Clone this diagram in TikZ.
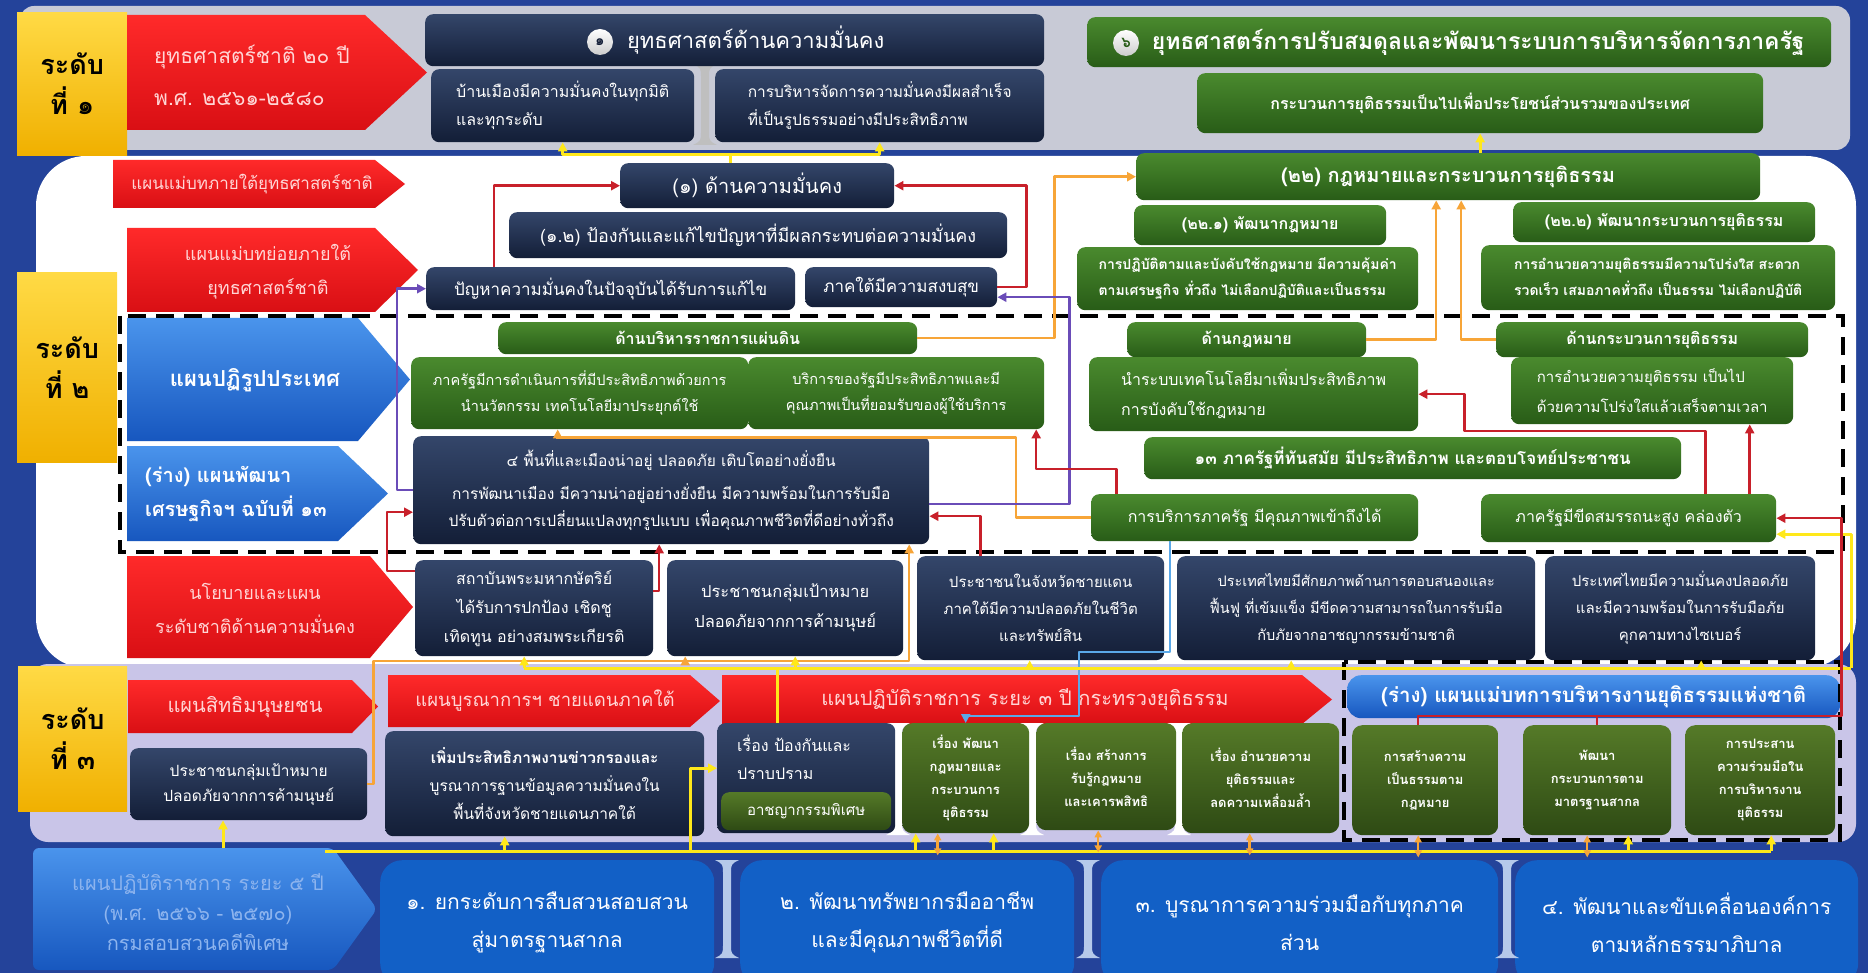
\documentclass[tikz,border=0pt]{standalone}
\usepackage{fontspec}
\setmainfont[Script=Thai]{Loma}
\usetikzlibrary{calc,arrows.meta}
\definecolor{frame}{HTML}{24439A}
\definecolor{lvone}{HTML}{C8CAD6}
\definecolor{lvthree}{HTML}{C9C5E8}
\definecolor{navT}{HTML}{34466A}
\definecolor{navB}{HTML}{131E37}
\definecolor{grT}{HTML}{4A8A2E}
\definecolor{grB}{HTML}{285C17}
\definecolor{olT}{HTML}{557A28}
\definecolor{olB}{HTML}{2E4A14}
\definecolor{rdT}{HTML}{FF2A2A}
\definecolor{rdB}{HTML}{D90F14}
\definecolor{blT}{HTML}{4A94EC}
\definecolor{blB}{HTML}{1757BF}
\definecolor{ylT}{HTML}{FFDA45}
\definecolor{ylB}{HTML}{F0B000}
\definecolor{bbox}{HTML}{1260C6}
\definecolor{pinktxt}{HTML}{FFD6D6}
\definecolor{yelc}{HTML}{FFE81A}
\definecolor{orac}{HTML}{F7A538}
\definecolor{redc}{HTML}{C8202A}
\definecolor{purc}{HTML}{6A4CB8}
\definecolor{bluc}{HTML}{5AA8E8}
\definecolor{beam}{HTML}{B5C9EA}
\definecolor{batxt}{HTML}{8DB4EE}
\newcommand{\fsz}[2]{\fontsize{#1}{#2}\selectfont}
\newcommand{\bx}[6]{\node[#1,anchor=north west,minimum width=#4,minimum height=#5] (#2) at (#3) {#6};}
\newcommand{\pent}[6]{\path[#1] (#2,#3) -- (#4,#3) -- (#5,{(#3+#6)/2}) -- (#4,#6) -- (#2,#6) -- cycle;}
\newcommand{\ibeam}[4]{\path[#4] (#1-12,#2) -- (#1+12,#2) .. controls (#1+4,#2+4) .. (#1+4,#2+14) -- (#1+4,#3-14) .. controls (#1+4,#3-4) .. (#1+12,#3) -- (#1-12,#3) .. controls (#1-4,#3-4) .. (#1-4,#3-14) -- (#1-4,#2+14) .. controls (#1-4,#2+4) .. (#1-12,#2) -- cycle;}
\tikzset{
 every node/.style={inner sep=2pt},
 lvl/.style={top color=ylT, bottom color=ylB, text=black, font=\fsz{27}{40}\bfseries, align=center},
 nav/.style={rounded corners=8pt, top color=navT, bottom color=navB, text=white, align=center},
 grn/.style={rounded corners=8pt, top color=grT, bottom color=grB, text=white, align=center},
 olv/.style={rounded corners=10pt, top color=olT, bottom color=olB, text=white, align=center, font=\fsz{13}{23}\bfseries},
 bbx/.style={rounded corners=22pt, fill=bbox, text=white, align=center, font=\fsz{21}{38}},
 rarrow/.style={top color=rdT, bottom color=rdB},
 barrow/.style={top color=blT, bottom color=blB},
 rtxt/.style={text=pinktxt, align=center},
 btxt/.style={text=white, align=center},
 con/.style={line width=2.5pt, line join=round},
 yel/.style={con, draw=yelc, line width=3pt},
 ora/.style={con, draw=orac},
 rdl/.style={con, draw=redc},
 pur/.style={con, draw=purc},
 blu/.style={con, draw=bluc, line width=2pt},
 arw/.style={-{Triangle[length=9pt,width=9pt]}},
 dbox/.style={draw=black, line width=3.5pt, dash pattern=on 18pt off 10pt},
 ball/.style={circle, top color=white, bottom color=gray!40, font=\fsz{15}{15}\bfseries, minimum size=26pt, inner sep=0pt},
}
\begin{document}
\begin{tikzpicture}[x=1pt,y=-1pt]
\useasboundingbox (0,0) rectangle (1868,973);
\fill[frame] (0,0) rectangle (1868,973);
\fill[lvone, rounded corners=14pt] (20,6) rectangle (1850,150);
\fill[white, rounded corners=50pt] (36,156) rectangle (1856,668);
\fill[lvthree, rounded corners=18pt] (30,664) rectangle (1856,842);

% ---------- level 1
\bx{lvl}{Y1}{17,12}{110}{143}{ระดับ\\ที่ ๑}
\pent{rarrow}{127}{15}{365}{427}{130}
\node[rtxt, align=left, font=\fsz{21}{42}] (R1) at (252,75) {ยุทธศาสตร์ชาติ ๒๐ ปี\\พ.ศ. ๒๕๖๑-๒๕๘๐};
\ibeam{705}{64}{145}{fill=gray!50}
\bx{nav, font=\fsz{22}{30}}{N1}{425,14}{619}{52}{\hspace*{42pt}ยุทธศาสตร์ด้านความมั่นคง}
\node[ball, text=navB] (C1) at (600,42) {๑};
\bx{nav, font=\fsz{16}{28}, align=left}{N1a}{431,69}{263}{73}{บ้านเมืองมีความมั่นคงในทุกมิติ\\และทุกระดับ}
\bx{nav, font=\fsz{15.5}{28}, align=left}{N1b}{715,69}{329}{73}{การบริหารจัดการความมั่นคงมีผลสำเร็จ\\ที่เป็นรูปธรรมอย่างมีประสิทธิภาพ}
\bx{grn, font=\fsz{23}{30}\bfseries}{G1}{1087,17}{744}{50}{\hspace*{38pt}ยุทธศาสตร์การปรับสมดุลและพัฒนาระบบการบริหารจัดการภาครัฐ}
\node[ball, text=grB] (C2) at (1126,43) {๖};
\bx{grn, font=\fsz{16}{20}\bfseries}{G1a}{1197,73}{566}{60}{กระบวนการยุติธรรมเป็นไปเพื่อประโยชน์ส่วนรวมของประเทศ}

% ---------- level 2
\pent{rarrow}{113}{160}{375}{405}{208}
\node[rtxt, font=\fsz{17}{24}] (R2) at (252,184) {แผนแม่บทภายใต้ยุทธศาสตร์ชาติ};
\pent{rarrow}{127}{228}{375}{418}{312}
\node[rtxt, font=\fsz{18}{34}] (R3) at (268,272) {แผนแม่บทย่อยภายใต้\\ยุทธศาสตร์ชาติ};
\bx{lvl}{Y2}{17,272}{100}{190}{ระดับ\\ที่ ๒}

\bx{nav, font=\fsz{20}{24}}{N2}{620,163}{274}{45}{(๑) ด้านความมั่นคง}
\bx{nav, font=\fsz{18}{24}}{N3}{509,212}{498}{46}{(๑.๒) ป้องกันและแก้ไขปัญหาที่มีผลกระทบต่อความมั่นคง}
\bx{nav, font=\fsz{17}{24}}{N4}{426,267}{369}{43}{ปัญหาความมั่นคงในปัจจุบันได้รับการแก้ไข}
\bx{nav, font=\fsz{17}{24}}{N5}{805,267}{192}{40}{ภาคใต้มีความสงบสุข}

\bx{grn, font=\fsz{20}{24}\bfseries}{G2}{1136,153}{624}{47}{(๒๒) กฎหมายและกระบวนการยุติธรรม}
\bx{grn, font=\fsz{16}{20}\bfseries}{G3}{1134,205}{252}{40}{(๒๒.๑) พัฒนากฎหมาย}
\bx{grn, font=\fsz{14}{26}\bfseries, align=left}{G4}{1077,247}{341}{63}{การปฏิบัติตามและบังคับใช้กฎหมาย มีความคุ้มค่า\\ตามเศรษฐกิจ ทั่วถึง ไม่เลือกปฏิบัติและเป็นธรรม}
\bx{grn, font=\fsz{16}{20}\bfseries}{G5}{1513,202}{302}{40}{(๒๒.๒) พัฒนากระบวนการยุติธรรม}
\bx{grn, font=\fsz{14}{26}\bfseries, align=left}{G6}{1481,245}{354}{65}{การอำนวยความยุติธรรมมีความโปร่งใส สะดวก\\รวดเร็ว เสมอภาคทั่วถึง เป็นธรรม ไม่เลือกปฏิบัติ}

\pent{barrow}{127}{318}{358}{410}{441}
\node[btxt, font=\fsz{22}{28}\bfseries] (B1) at (255,380) {แผนปฏิรูปประเทศ};
\pent{barrow}{127}{446}{338}{388}{541}
\node[btxt, align=left, font=\fsz{20}{34}\bfseries] (B2) at (236,494) {(ร่าง) แผนพัฒนา\\เศรษฐกิจฯ ฉบับที่ ๑๓};

\bx{grn, font=\fsz{16}{20}\bfseries}{G7}{498,322}{419}{32}{ด้านบริหารราชการแผ่นดิน}
\bx{grn, font=\fsz{14.5}{26}}{G8}{411,357}{337}{72}{ภาครัฐมีการดำเนินการที่มีประสิทธิภาพด้วยการ\\นำนวัตกรรม เทคโนโลยีมาประยุกต์ใช้}
\bx{grn, font=\fsz{14.5}{26}}{G9}{748,357}{296}{72}{บริการของรัฐมีประสิทธิภาพและมี\\คุณภาพเป็นที่ยอมรับของผู้ใช้บริการ}
\bx{grn, font=\fsz{16}{20}\bfseries}{G10}{1127,322}{239}{35}{ด้านกฎหมาย}
\bx{grn, font=\fsz{16}{30}, align=left}{G11}{1089,357}{329}{74}{นำระบบเทคโนโลยีมาเพิ่มประสิทธิภาพ\\การบังคับใช้กฎหมาย}
\bx{grn, font=\fsz{16}{20}\bfseries}{G12}{1496,322}{312}{35}{ด้านกระบวนการยุติธรรม}
\bx{grn, font=\fsz{15}{30}, align=left}{G13}{1511,357}{282}{67}{การอำนวยความยุติธรรม เป็นไป\\ด้วยความโปร่งใสแล้วเสร็จตามเวลา}
\bx{grn, font=\fsz{17}{22}\bfseries}{G14}{1144,437}{537}{42}{๑๓ ภาครัฐที่ทันสมัย มีประสิทธิภาพ และตอบโจทย์ประชาชน}
\bx{grn, font=\fsz{16}{20}}{G15}{1091,494}{327}{47}{การบริการภาครัฐ มีคุณภาพเข้าถึงได้}
\bx{grn, font=\fsz{16}{20}}{G16}{1481,494}{295}{48}{ภาครัฐมีขีดสมรรถนะสูง คล่องตัว}
\bx{nav, font=\fsz{15.5}{27}}{N6}{413,436}{516}{108}{๔ พื้นที่และเมืองน่าอยู่ ปลอดภัย เติบโตอย่างยั่งยืน\\[6pt]การพัฒนาเมือง มีความน่าอยู่อย่างยั่งยืน มีความพร้อมในการรับมือ\\ปรับตัวต่อการเปลี่ยนแปลงทุกรูปแบบ เพื่อคุณภาพชีวิตที่ดีอย่างทั่วถึง}

% ---------- policy row
\pent{rarrow}{127}{556}{370}{413}{658}
\node[rtxt, font=\fsz{18}{34}] (R4) at (255,608) {นโยบายและแผน\\ระดับชาติด้านความมั่นคง};
\ibeam{1170}{556}{660}{fill=white}
\bx{nav, font=\fsz{16}{29}}{P1}{415,560}{238}{96}{สถาบันพระมหากษัตริย์\\ได้รับการปกป้อง เชิดชู\\เทิดทูน อย่างสมพระเกียรติ}
\bx{nav, font=\fsz{16.5}{30}}{P2}{667,560}{236}{96}{ประชาชนกลุ่มเป้าหมาย\\ปลอดภัยจากการค้ามนุษย์}
\bx{nav, font=\fsz{15}{27}}{P3}{917,556}{247}{104}{ประชาชนในจังหวัดชายแดน\\ภาคใต้มีความปลอดภัยในชีวิต\\และทรัพย์สิน}
\bx{nav, font=\fsz{14.5}{27}}{P4}{1177,556}{358}{104}{ประเทศไทยมีศักยภาพด้านการตอบสนองและ\\ฟื้นฟู ที่เข้มแข็ง มีขีดความสามารถในการรับมือ\\กับภัยจากอาชญากรรมข้ามชาติ}
\bx{nav, font=\fsz{15}{27}}{P5}{1545,556}{270}{104}{ประเทศไทยมีความมั่นคงปลอดภัย\\และมีความพร้อมในการรับมือภัย\\คุกคามทางไซเบอร์}

% ---------- level 3
\bx{lvl}{Y3}{18,666}{109}{145}{ระดับ\\ที่ ๓}
\pent{rarrow}{128}{680}{352}{378}{733}
\node[rtxt, font=\fsz{20}{22}] (R5) at (245,707) {แผนสิทธิมนุษยชน};
\bx{nav, font=\fsz{15.5}{25}}{L1}{130,748}{237}{72}{ประชาชนกลุ่มเป้าหมาย\\ปลอดภัยจากการค้ามนุษย์}
\pent{rarrow}{388}{675}{690}{720}{727}
\node[rtxt, font=\fsz{18.5}{22}] (R6) at (545,701) {แผนบูรณาการฯ ชายแดนภาคใต้};
\bx{nav, font=\fsz{15.5}{28}}{L2}{385,731}{319}{105}{\textbf{เพิ่มประสิทธิภาพงานข่าวกรองและ}\\บูรณาการฐานข้อมูลความมั่นคงใน\\พื้นที่จังหวัดชายแดนภาคใต้}
\pent{rarrow}{722}{675}{1302}{1332}{724}
\node[rtxt, font=\fsz{20}{22}] (R7) at (1025,700) {แผนปฏิบัติราชการ ระยะ ๓ ปี กระทรวงยุติธรรม};
\bx{rounded corners=14pt, top color=blT, bottom color=blB, text=white, font=\fsz{20.5}{22}\bfseries}{BL}{1347,675}{493}{43}{(ร่าง) แผนแม่บทการบริหารงานยุติธรรมแห่งชาติ}

\ibeam{898}{723}{835}{fill=white}
\ibeam{1032}{723}{835}{fill=white}
\ibeam{1179}{723}{835}{fill=white}
\bx{nav}{L3}{717,723}{178}{110}{}
\bx{olv, rounded corners=8pt, font=\fsz{15}{20}}{L3g}{721,792}{170}{38}{อาชญากรรมพิเศษ}
\node[text=white, font=\fsz{16}{28}, align=left, anchor=north west] (L3t) at (735,733) {เรื่อง ป้องกันและ\\ปราบปราม};
\bx{olv}{L4}{902,723}{127}{110}{เรื่อง พัฒนา\\กฎหมายและ\\กระบวนการ\\ยุติธรรม}
\bx{olv}{L5}{1036,723}{140}{107}{เรื่อง สร้างการ\\รับรู้กฎหมาย\\และเคารพสิทธิ}
\bx{olv}{L6}{1182,723}{157}{110}{เรื่อง อำนวยความ\\ยุติธรรมและ\\ลดความเหลื่อมล้ำ}
\bx{olv}{L7}{1352,725}{146}{110}{การสร้างความ\\เป็นธรรมตาม\\กฎหมาย}
\bx{olv}{L8}{1523,725}{148}{110}{พัฒนา\\กระบวนการตาม\\มาตรฐานสากล}
\bx{olv}{L9}{1685,725}{150}{110}{การประสาน\\ความร่วมมือใน\\การบริหารงาน\\ยุติธรรม}

% ---------- bottom row
\pent{barrow, rounded corners=6pt}{33}{848}{333}{377}{970}
\node[text=batxt, align=center, font=\fsz{20}{30}] (BA) at (198,912) {แผนปฏิบัติราชการ ระยะ ๕ ปี\\(พ.ศ. ๒๕๖๖ - ๒๕๗๐)\\กรมสอบสวนคดีพิเศษ};
\bx{bbx}{BB1}{380,860}{334}{125}{๑. ยกระดับการสืบสวนสอบสวน\\สู่มาตรฐานสากล}
\bx{bbx}{BB2}{740,860}{334}{125}{๒. พัฒนาทรัพยากรมืออาชีพ\\และมีคุณภาพชีวิตที่ดี}
\bx{bbx}{BB3}{1101,860}{397}{125}{๓. บูรณาการความร่วมมือกับทุกภาค\\ส่วน}
\bx{bbx}{BB4}{1515,860}{343}{125}{๔. พัฒนาและขับเคลื่อนองค์การ\\ตามหลักธรรมาภิบาล}
\ibeam{727}{860}{958}{fill=beam}
\ibeam{1088}{860}{958}{fill=beam}
\ibeam{1507}{860}{958}{fill=beam}

% ---------- dashed frames
\draw[dbox] (120,316) rectangle (1843,552);
\draw[dbox] (1344,662) rectangle (1840,840);

% ---------- connectors, top
\draw[yel] ([xshift=-27]N2.north) -- ++(0,-8) coordinate (yt);
\draw[yel,arw] (yt) -| (N1a.south);
\draw[yel,arw] (yt) -| (N1b.south);
\draw[yel,arw] (G2.north -| G1a.south) -- (G1a.south);
\draw[rdl,arw] ([xshift=68]N4.north west) |- (N2.west);
\draw[rdl,arw] (N5.east) -- ++(29,0) |- (N2.east);
\draw[ora,arw] (G7.east) -- ++(137,0) |- (G2.west);
\draw[ora,arw] (G10.east) -| ([xshift=-12]G2.south);
\draw[ora,arw] (G12.west) -| ([xshift=13]G2.south);
\draw[ora,arw] (G15.west) -- ++(-75,0) -- ++(0,-80) -| ([xshift=-22]G8.south);
\draw[pur,arw] (N6.west) -- ++(-16,0) |- (N4.west);
\draw[pur,arw] ([yshift=-14]N6.east) -- ++(140,0) |- ([yshift=-10]N5.east);
\draw[rdl,arw] ([xshift=77]G16.north) -- ++(0,-63) -- ++(-241,0) |- (G11.east);
\draw[rdl,arw] ([xshift=121]G16.north) -- ([xshift=121]G16.north |- G13.south);
\draw[rdl,arw] ([xshift=-138]G15.north) -- ++(0,-25) -| ([xshift=140]G9.south);
\draw[rdl,arw] ([xshift=-60]P3.north) |- ([yshift=-26]N6.east);
\draw[rdl,arw] ([yshift=37]P1.west) -- ++(-28,0) |- ([yshift=-22]N6.west);
\draw[rdl,arw] ([yshift=17]P1.east) -| ([xshift=-12]N6.south);

% ---------- connectors, lower
\draw[ora,arw] (L1.east) -- ++(6,0) -- ++(0,-123) coordinate (ob) -| ([xshift=238]N6.south);
\draw[ora,arw] ([xshift=-100]P2.south |- ob) -- ([xshift=-100]P2.south);
\draw[blu,arw] ([xshift=-85]G15.south) |- (1079,652) -- (1079,716) -| (L4.north);
\draw[yel] ([xshift=-29]L3.north) -- ++(0,-55) coordinate (yb);
\coordinate (yr) at (1851,668);
\draw[yel] ([xshift=-10]P1.south |- yb) -- (yr);
\draw[yel,arw] (yr) |- ([yshift=-16]G16.east);
\foreach \n/\dx in {P1/-10, P2/10, P3/-11, P4/-65, P5/21}
  \draw[yel,arw] ([xshift=\dx]\n.south |- yb) -- ([xshift=\dx]\n.south);
\draw[rdl,arw] ([xshift=-7]L7.north) -- ++(0,-9) -- ($(L9.north east)+(6,-9)$) |- (G16.east);
\draw[rdl] (L8.north) -- ++(0,-9);
\coordinate (yb2) at (325,851);
\draw[yel] (yb2) -- ([xshift=11]L9.south |- yb2);
\foreach \n/\dx in {L2/-40, L4/-50, L4/28, L8/31, L9/11}
  \draw[yel,arw] ([xshift=\dx]\n.south |- yb2) -- ([xshift=\dx]\n.south);
\draw[yel,arw] ([xshift=-27]L3.west |- yb2) |- ([yshift=10]L3.west);
\coordinate (ban) at (223,848);
\draw[yel,arw] (ban) -- (ban |- L1.south);
\foreach \n/\dx in {L4/-28, L5/-8, L6/-11, L7/-7, L8/-10}
  \draw[ora, {Triangle[length=7pt,width=7pt]}-{Triangle[length=7pt,width=7pt]}] ([xshift=\dx]\n.south) -- ++(0,22);
\end{tikzpicture}
\end{document}
